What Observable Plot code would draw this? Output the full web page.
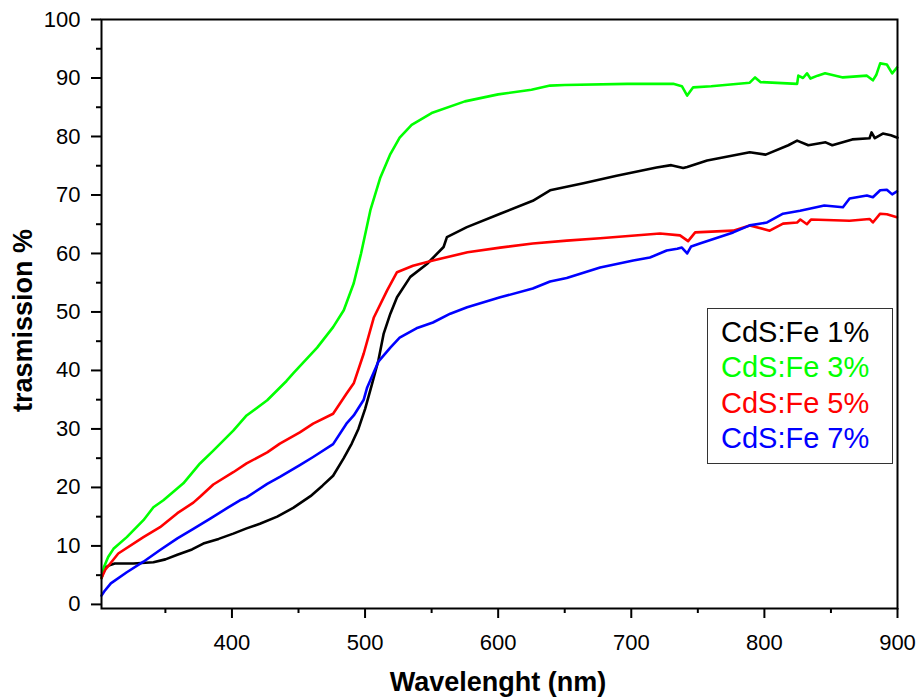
<!DOCTYPE html>
<html><head><meta charset="utf-8">
<script src="https://cdn.jsdelivr.net/npm/d3@7"></script>
<script src="https://cdn.jsdelivr.net/npm/@observablehq/plot@0.6"></script>
<style>
body{margin:0;background:#fff;font-family:"Liberation Sans",Arial,sans-serif;}
#wrap{position:relative;width:917px;height:700px;overflow:hidden;}
#legend{position:absolute;left:707px;top:308px;width:184px;height:154px;border:1px solid #333;background:#fff;
  box-sizing:content-box;padding:0;font-family:"Liberation Sans",Arial,sans-serif;font-size:29px;}
#legend .inner{padding-top:6.2px;padding-left:13px;}
#legend .row{line-height:35.3px;height:35.3px;white-space:nowrap;}
</style></head><body><div id="wrap"></div>
<script>
// Series: CdS:Fe 1%
const fe1_wl = [302,303,305,308,312,320,326,341,350,359,370,378.5,390,401,411,421,434,446,459,468,476,484,490,495,500,505,510,514,519,524,534,546.5,559,561.5,576.5,601.5,626,639,664,689,719,730,739,742,757,789,801,818,824.6,833,846,851,866,879,880.5,883,889,895,900];
const fe1_T  = [4.5,5.3,6.3,6.7,7.0,7.0,7.0,7.2,7.7,8.5,9.4,10.4,11.2,12.1,13.0,13.8,15.0,16.5,18.5,20.3,22.0,25.0,27.5,30.0,33.4,37.5,41.7,46.3,49.7,52.5,56,58.2,61.1,62.8,64.5,66.8,69,70.8,72,73.3,74.7,75.1,74.6,74.8,75.9,77.3,76.9,78.5,79.3,78.5,79,78.5,79.5,79.7,80.7,79.7,80.5,80.2,79.8];
// Series: CdS:Fe 3%
const fe3_wl = [302,304,307,311,321,333.5,341,348.5,363.5,376,386,401,411,426.5,441,446,464,476,484,491.5,497,504,511.5,519,526,535,550,575,600,625,639,650,697,731.5,738,742,746.5,760,789,793,797,824.6,825.5,829,832,834.6,840,845.6,859,877,881.5,884,887,892,896,899.6];
const fe3_T  = [4.5,6.5,8.1,9.5,11.5,14.4,16.6,17.8,20.7,24.1,26.3,29.7,32.3,34.9,38.2,39.5,43.9,47.4,50.3,54.9,60,67.4,73,77,79.8,82,84,86,87.2,88,88.7,88.8,89,89,88.6,87,88.4,88.6,89.2,90.1,89.3,89,90.4,90,90.8,89.9,90.4,90.8,90.1,90.4,89.6,90.5,92.5,92.3,90.8,91.8];
// Series: CdS:Fe 5%
const fe5_wl = [302,305,308.6,314.6,333.5,346,359,371,376,386,401,411,426.5,436,451,461,476,486,491.5,499,506.5,516.6,524,536,551,577,601.5,626,651.5,676.6,721.6,736.6,742.7,748,776.6,789,804,814,824.6,827,832,835,864,879,881.5,887,892,899.6];
const fe5_T  = [4.5,6,7.0,8.7,11.5,13.2,15.6,17.4,18.4,20.5,22.6,24.1,26.0,27.5,29.4,30.9,32.6,36.0,37.8,42.9,49,53.7,56.8,57.9,58.8,60.2,61,61.7,62.2,62.6,63.4,63.1,62.1,63.6,63.9,64.8,63.9,65.1,65.3,65.8,65,65.8,65.6,65.9,65.3,66.8,66.7,66.2];
// Series: CdS:Fe 7%
const fe7_wl = [302,304,309,321,333.5,346,359,371,384,396.6,406,411,426.5,436,451,461,476,486,491.5,499,501.6,510,519,526,538.6,551,564,576.7,601.5,626,639,651.5,676.6,701.5,714,726.6,734.5,738,742,745,751.5,776.6,789,802,814,826.8,839,845,859,864,877,881.5,887,892,896,899.6];
const fe7_T  = [1.5,2.2,3.6,5.5,7.3,9.3,11.3,12.9,14.7,16.5,17.8,18.3,20.6,21.8,23.8,25.2,27.4,30.9,32.3,35.0,37.1,41.5,43.9,45.6,47.2,48.2,49.7,50.8,52.5,54,55.2,55.8,57.6,58.8,59.3,60.5,60.8,61,60,61.2,61.7,63.6,64.8,65.3,66.8,67.3,67.9,68.2,67.9,69.4,69.9,69.6,70.8,70.9,70.1,70.6];

const seriesNames  = ["CdS:Fe 1%","CdS:Fe 3%","CdS:Fe 5%","CdS:Fe 7%"];
const seriesColors = ["#000000","#00ff00","#ff0000","#0000ff"];
const seriesWl = [fe1_wl, fe3_wl, fe5_wl, fe7_wl];
const seriesT  = [fe1_T, fe3_T, fe5_T, fe7_T];

const xMajorTicks = [400,500,600,700,800,900];
const xMinorTicks = [350,450,550,650,750,850];
const yMajorTicks = [0,10,20,30,40,50,60,70,80,90,100];
const yMinorTicks = [5,15,25,35,45,55,65,75,85,95];
const xTitle = "Wavelenght (nm)";
const yTitle = "trasmission %";

const lineMarks = seriesNames.map((name, i) =>
  Plot.line(seriesT[i], {x: seriesWl[i], y: seriesT[i], stroke: seriesColors[i], strokeWidth: 2.6, strokeLinejoin: "round"})
);

const chart = Plot.plot({
  width: 917, height: 700,
  marginLeft: 101, marginRight: 20, marginTop: 19, marginBottom: 92,
  style: {fontFamily: "'Liberation Sans', Arial, sans-serif", background: "white", color: "black", overflow: "visible"},
  x: {domain: [302, 900]},
  y: {domain: [-0.7, 100]},
  marks: [
    Plot.axisX(xMinorTicks, {tickSize: 5, strokeWidth: 2, tickFormat: () => "", label: null}),
    Plot.axisX(xMajorTicks, {tickSize: 10, tickPadding: 16, strokeWidth: 2, fontSize: 22, label: null}),
    Plot.axisY(yMinorTicks, {tickSize: 5, strokeWidth: 2, tickFormat: () => "", label: null}),
    Plot.axisY(yMajorTicks, {tickSize: 10, tickPadding: 11, strokeWidth: 2, fontSize: 22, label: null}),
    ...lineMarks,
    Plot.frame({stroke: "black", strokeWidth: 2}),
    Plot.text([xTitle], {text: d => d, frameAnchor: "bottom", textAnchor: "middle", lineAnchor: "middle", dx: -1.5, dy: 74, fontSize: 27, fontWeight: "bold", fill: "black"}),
    Plot.text([yTitle], {text: d => d, frameAnchor: "left", textAnchor: "middle", lineAnchor: "middle", rotate: -90, dx: -78, dy: 6.5, fontSize: 27, fontWeight: "bold", fill: "black"})
  ]
});

const wrap = document.getElementById("wrap");
wrap.appendChild(chart);

const legend = document.createElement("div");
legend.id = "legend";
const inner = document.createElement("div");
inner.className = "inner";
seriesNames.forEach((name, i) => {
  const row = document.createElement("div");
  row.className = "row";
  row.style.color = seriesColors[i];
  row.textContent = name;
  inner.appendChild(row);
});
legend.appendChild(inner);
wrap.appendChild(legend);
</script>
</body></html>
